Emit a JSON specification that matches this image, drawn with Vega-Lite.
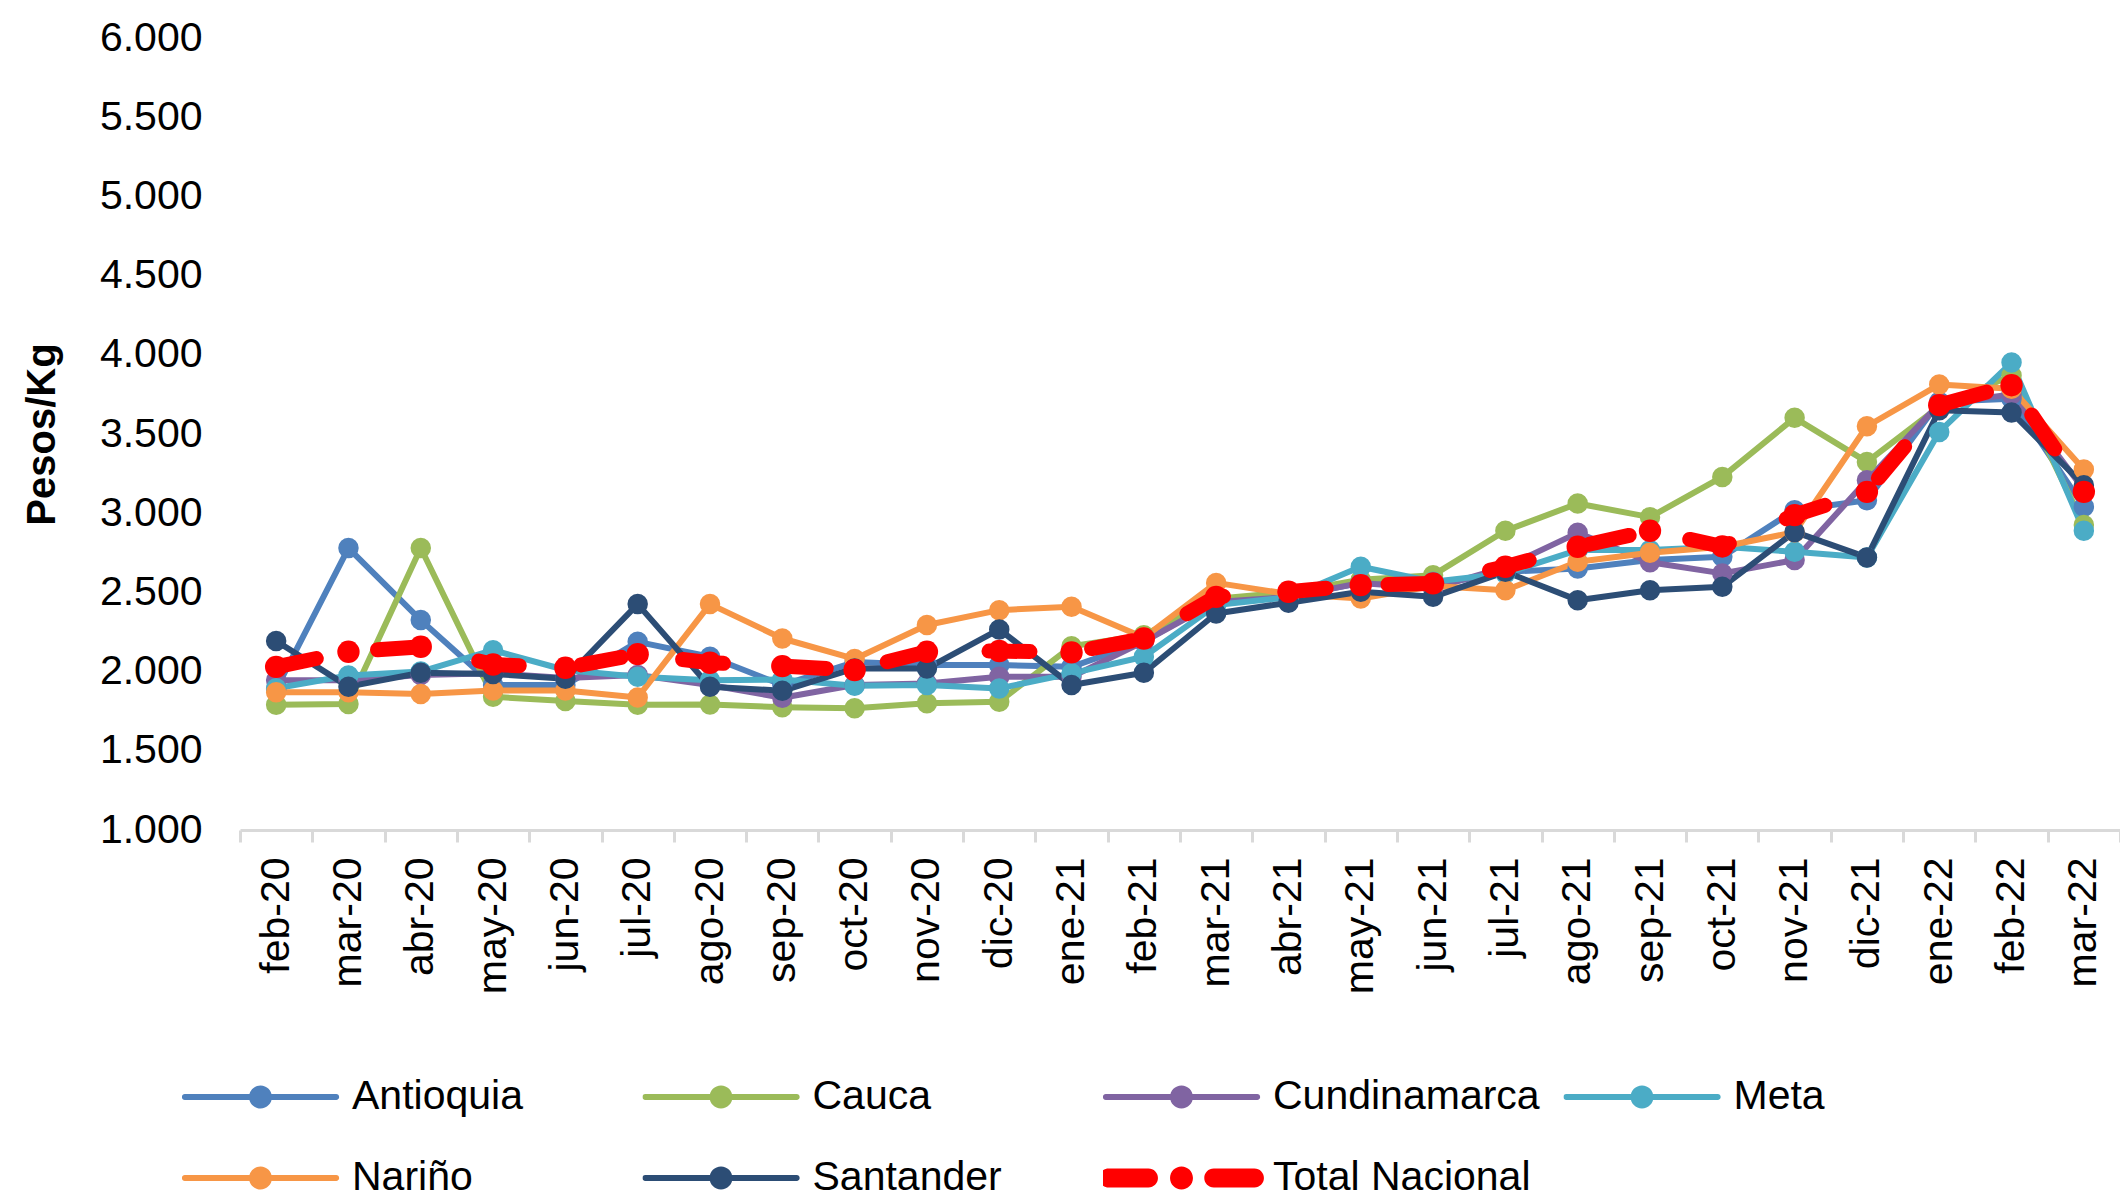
{
  "$schema": "https://vega.github.io/schema/vega-lite/v6.json",
  "autosize": {"type": "none"},
  "padding": {"left": 240, "top": 38, "right": 0, "bottom": 367},
  "width": 1880,
  "height": 792,
  "background": "white",
  "config": {
    "view": {"stroke": null},
    "font": "Liberation Sans",
    "axis": {"labelFont": "Liberation Sans", "titleFont": "Liberation Sans", "labelColor": "#000000", "titleColor": "#000000"},
    "legend": {"labelFont": "Liberation Sans"}
  },
  "datasets": {
    "precios": [
      {"mes": "feb-20", "serie": "Antioquia", "valor": 1890}, {"mes": "mar-20", "serie": "Antioquia", "valor": 2780}, {"mes": "abr-20", "serie": "Antioquia", "valor": 2325}, {"mes": "may-20", "serie": "Antioquia", "valor": 1915}, {"mes": "jun-20", "serie": "Antioquia", "valor": 1915}, {"mes": "jul-20", "serie": "Antioquia", "valor": 2188}, {"mes": "ago-20", "serie": "Antioquia", "valor": 2094}, {"mes": "sep-20", "serie": "Antioquia", "valor": 1915}, {"mes": "oct-20", "serie": "Antioquia", "valor": 2060}, {"mes": "nov-20", "serie": "Antioquia", "valor": 2041}, {"mes": "dic-20", "serie": "Antioquia", "valor": 2041}, {"mes": "ene-21", "serie": "Antioquia", "valor": 2030}, {"mes": "feb-21", "serie": "Antioquia", "valor": 2190}, {"mes": "mar-21", "serie": "Antioquia", "valor": 2450}, {"mes": "abr-21", "serie": "Antioquia", "valor": 2470}, {"mes": "may-21", "serie": "Antioquia", "valor": 2560}, {"mes": "jun-21", "serie": "Antioquia", "valor": 2545}, {"mes": "jul-21", "serie": "Antioquia", "valor": 2630}, {"mes": "ago-21", "serie": "Antioquia", "valor": 2651}, {"mes": "sep-21", "serie": "Antioquia", "valor": 2704}, {"mes": "oct-21", "serie": "Antioquia", "valor": 2725}, {"mes": "nov-21", "serie": "Antioquia", "valor": 3019}, {"mes": "dic-21", "serie": "Antioquia", "valor": 3082}, {"mes": "ene-22", "serie": "Antioquia", "valor": 3703}, {"mes": "feb-22", "serie": "Antioquia", "valor": 3723}, {"mes": "mar-22", "serie": "Antioquia", "valor": 3040},
      {"mes": "feb-20", "serie": "Cauca", "valor": 1790}, {"mes": "mar-20", "serie": "Cauca", "valor": 1795}, {"mes": "abr-20", "serie": "Cauca", "valor": 2780}, {"mes": "may-20", "serie": "Cauca", "valor": 1841}, {"mes": "jun-20", "serie": "Cauca", "valor": 1815}, {"mes": "jul-20", "serie": "Cauca", "valor": 1790}, {"mes": "ago-20", "serie": "Cauca", "valor": 1792}, {"mes": "sep-20", "serie": "Cauca", "valor": 1775}, {"mes": "oct-20", "serie": "Cauca", "valor": 1768}, {"mes": "nov-20", "serie": "Cauca", "valor": 1800}, {"mes": "dic-20", "serie": "Cauca", "valor": 1810}, {"mes": "ene-21", "serie": "Cauca", "valor": 2160}, {"mes": "feb-21", "serie": "Cauca", "valor": 2230}, {"mes": "mar-21", "serie": "Cauca", "valor": 2460}, {"mes": "abr-21", "serie": "Cauca", "valor": 2500}, {"mes": "may-21", "serie": "Cauca", "valor": 2580}, {"mes": "jun-21", "serie": "Cauca", "valor": 2609}, {"mes": "jul-21", "serie": "Cauca", "valor": 2889}, {"mes": "ago-21", "serie": "Cauca", "valor": 3061}, {"mes": "sep-21", "serie": "Cauca", "valor": 2975}, {"mes": "oct-21", "serie": "Cauca", "valor": 3229}, {"mes": "nov-21", "serie": "Cauca", "valor": 3602}, {"mes": "dic-21", "serie": "Cauca", "valor": 3324}, {"mes": "ene-22", "serie": "Cauca", "valor": 3672}, {"mes": "feb-22", "serie": "Cauca", "valor": 3870}, {"mes": "mar-22", "serie": "Cauca", "valor": 2925},
      {"mes": "feb-20", "serie": "Cundinamarca", "valor": 1946}, {"mes": "mar-20", "serie": "Cundinamarca", "valor": 1946}, {"mes": "abr-20", "serie": "Cundinamarca", "valor": 1978}, {"mes": "may-20", "serie": "Cundinamarca", "valor": 1990}, {"mes": "jun-20", "serie": "Cundinamarca", "valor": 1960}, {"mes": "jul-20", "serie": "Cundinamarca", "valor": 1978}, {"mes": "ago-20", "serie": "Cundinamarca", "valor": 1915}, {"mes": "sep-20", "serie": "Cundinamarca", "valor": 1835}, {"mes": "oct-20", "serie": "Cundinamarca", "valor": 1915}, {"mes": "nov-20", "serie": "Cundinamarca", "valor": 1925}, {"mes": "dic-20", "serie": "Cundinamarca", "valor": 1967}, {"mes": "ene-21", "serie": "Cundinamarca", "valor": 1967}, {"mes": "feb-21", "serie": "Cundinamarca", "valor": 2190}, {"mes": "mar-21", "serie": "Cundinamarca", "valor": 2440}, {"mes": "abr-21", "serie": "Cundinamarca", "valor": 2470}, {"mes": "may-21", "serie": "Cundinamarca", "valor": 2560}, {"mes": "jun-21", "serie": "Cundinamarca", "valor": 2525}, {"mes": "jul-21", "serie": "Cundinamarca", "valor": 2660}, {"mes": "ago-21", "serie": "Cundinamarca", "valor": 2876}, {"mes": "sep-21", "serie": "Cundinamarca", "valor": 2690}, {"mes": "oct-21", "serie": "Cundinamarca", "valor": 2620}, {"mes": "nov-21", "serie": "Cundinamarca", "valor": 2704}, {"mes": "dic-21", "serie": "Cundinamarca", "valor": 3208}, {"mes": "ene-22", "serie": "Cundinamarca", "valor": 3690}, {"mes": "feb-22", "serie": "Cundinamarca", "valor": 3750}, {"mes": "mar-22", "serie": "Cundinamarca", "valor": 3150},
      {"mes": "feb-20", "serie": "Meta", "valor": 1895}, {"mes": "mar-20", "serie": "Meta", "valor": 1975}, {"mes": "abr-20", "serie": "Meta", "valor": 2000}, {"mes": "may-20", "serie": "Meta", "valor": 2135}, {"mes": "jun-20", "serie": "Meta", "valor": 2010}, {"mes": "jul-20", "serie": "Meta", "valor": 1967}, {"mes": "ago-20", "serie": "Meta", "valor": 1946}, {"mes": "sep-20", "serie": "Meta", "valor": 1950}, {"mes": "oct-20", "serie": "Meta", "valor": 1910}, {"mes": "nov-20", "serie": "Meta", "valor": 1915}, {"mes": "dic-20", "serie": "Meta", "valor": 1894}, {"mes": "ene-21", "serie": "Meta", "valor": 1989}, {"mes": "feb-21", "serie": "Meta", "valor": 2094}, {"mes": "mar-21", "serie": "Meta", "valor": 2420}, {"mes": "abr-21", "serie": "Meta", "valor": 2470}, {"mes": "may-21", "serie": "Meta", "valor": 2662}, {"mes": "jun-21", "serie": "Meta", "valor": 2567}, {"mes": "jul-21", "serie": "Meta", "valor": 2620}, {"mes": "ago-21", "serie": "Meta", "valor": 2767}, {"mes": "sep-21", "serie": "Meta", "valor": 2767}, {"mes": "oct-21", "serie": "Meta", "valor": 2788}, {"mes": "nov-21", "serie": "Meta", "valor": 2756}, {"mes": "dic-21", "serie": "Meta", "valor": 2721}, {"mes": "ene-22", "serie": "Meta", "valor": 3513}, {"mes": "feb-22", "serie": "Meta", "valor": 3951}, {"mes": "mar-22", "serie": "Meta", "valor": 2889},
      {"mes": "feb-20", "serie": "Nariño", "valor": 1869}, {"mes": "mar-20", "serie": "Nariño", "valor": 1869}, {"mes": "abr-20", "serie": "Nariño", "valor": 1858}, {"mes": "may-20", "serie": "Nariño", "valor": 1880}, {"mes": "jun-20", "serie": "Nariño", "valor": 1880}, {"mes": "jul-20", "serie": "Nariño", "valor": 1837}, {"mes": "ago-20", "serie": "Nariño", "valor": 2426}, {"mes": "sep-20", "serie": "Nariño", "valor": 2209}, {"mes": "oct-20", "serie": "Nariño", "valor": 2080}, {"mes": "nov-20", "serie": "Nariño", "valor": 2294}, {"mes": "dic-20", "serie": "Nariño", "valor": 2388}, {"mes": "ene-21", "serie": "Nariño", "valor": 2409}, {"mes": "feb-21", "serie": "Nariño", "valor": 2215}, {"mes": "mar-21", "serie": "Nariño", "valor": 2560}, {"mes": "abr-21", "serie": "Nariño", "valor": 2490}, {"mes": "may-21", "serie": "Nariño", "valor": 2462}, {"mes": "jun-21", "serie": "Nariño", "valor": 2540}, {"mes": "jul-21", "serie": "Nariño", "valor": 2514}, {"mes": "ago-21", "serie": "Nariño", "valor": 2693}, {"mes": "sep-21", "serie": "Nariño", "valor": 2750}, {"mes": "oct-21", "serie": "Nariño", "valor": 2788}, {"mes": "nov-21", "serie": "Nariño", "valor": 2880}, {"mes": "dic-21", "serie": "Nariño", "valor": 3549}, {"mes": "ene-22", "serie": "Nariño", "valor": 3812}, {"mes": "feb-22", "serie": "Nariño", "valor": 3786}, {"mes": "mar-22", "serie": "Nariño", "valor": 3276},
      {"mes": "feb-20", "serie": "Santander", "valor": 2193}, {"mes": "mar-20", "serie": "Santander", "valor": 1905}, {"mes": "abr-20", "serie": "Santander", "valor": 1993}, {"mes": "may-20", "serie": "Santander", "valor": 1985}, {"mes": "jun-20", "serie": "Santander", "valor": 1955}, {"mes": "jul-20", "serie": "Santander", "valor": 2426}, {"mes": "ago-20", "serie": "Santander", "valor": 1905}, {"mes": "sep-20", "serie": "Santander", "valor": 1879}, {"mes": "oct-20", "serie": "Santander", "valor": 2020}, {"mes": "nov-20", "serie": "Santander", "valor": 2020}, {"mes": "dic-20", "serie": "Santander", "valor": 2266}, {"mes": "ene-21", "serie": "Santander", "valor": 1915}, {"mes": "feb-21", "serie": "Santander", "valor": 1993}, {"mes": "mar-21", "serie": "Santander", "valor": 2367}, {"mes": "abr-21", "serie": "Santander", "valor": 2435}, {"mes": "may-21", "serie": "Santander", "valor": 2504}, {"mes": "jun-21", "serie": "Santander", "valor": 2472}, {"mes": "jul-21", "serie": "Santander", "valor": 2630}, {"mes": "ago-21", "serie": "Santander", "valor": 2451}, {"mes": "sep-21", "serie": "Santander", "valor": 2514}, {"mes": "oct-21", "serie": "Santander", "valor": 2535}, {"mes": "nov-21", "serie": "Santander", "valor": 2882}, {"mes": "dic-21", "serie": "Santander", "valor": 2721}, {"mes": "ene-22", "serie": "Santander", "valor": 3650}, {"mes": "feb-22", "serie": "Santander", "valor": 3636}, {"mes": "mar-22", "serie": "Santander", "valor": 3177},
      {"mes": "feb-20", "serie": "Total Nacional", "valor": 2030}, {"mes": "mar-20", "serie": "Total Nacional", "valor": 2125}, {"mes": "abr-20", "serie": "Total Nacional", "valor": 2157}, {"mes": "may-20", "serie": "Total Nacional", "valor": 2045}, {"mes": "jun-20", "serie": "Total Nacional", "valor": 2024}, {"mes": "jul-20", "serie": "Total Nacional", "valor": 2110}, {"mes": "ago-20", "serie": "Total Nacional", "valor": 2056}, {"mes": "sep-20", "serie": "Total Nacional", "valor": 2035}, {"mes": "oct-20", "serie": "Total Nacional", "valor": 2010}, {"mes": "nov-20", "serie": "Total Nacional", "valor": 2125}, {"mes": "dic-20", "serie": "Total Nacional", "valor": 2130}, {"mes": "ene-21", "serie": "Total Nacional", "valor": 2121}, {"mes": "feb-21", "serie": "Total Nacional", "valor": 2209}, {"mes": "mar-21", "serie": "Total Nacional", "valor": 2472}, {"mes": "abr-21", "serie": "Total Nacional", "valor": 2504}, {"mes": "may-21", "serie": "Total Nacional", "valor": 2546}, {"mes": "jun-21", "serie": "Total Nacional", "valor": 2557}, {"mes": "jul-21", "serie": "Total Nacional", "valor": 2662}, {"mes": "ago-21", "serie": "Total Nacional", "valor": 2788}, {"mes": "sep-21", "serie": "Total Nacional", "valor": 2889}, {"mes": "oct-21", "serie": "Total Nacional", "valor": 2790}, {"mes": "nov-21", "serie": "Total Nacional", "valor": 2988}, {"mes": "dic-21", "serie": "Total Nacional", "valor": 3135}, {"mes": "ene-22", "serie": "Total Nacional", "valor": 3682}, {"mes": "feb-22", "serie": "Total Nacional", "valor": 3808}, {"mes": "mar-22", "serie": "Total Nacional", "valor": 3135}
    ]
  },
  "data": {"name": "precios"},
  "encoding": {
    "x": {
      "field": "mes", "type": "ordinal", "sort": null,
      "scale": {"type": "band", "paddingInner": 0, "paddingOuter": 0},
      "axis": {
        "title": null, "labelAngle": -90, "labelAlign": "right", "labelBaseline": "middle",
        "labelFontSize": 41, "labelPadding": 15, "tickBand": "extent",
        "domainColor": "#D9D9D9", "domainWidth": 3, "tickColor": "#D9D9D9", "tickWidth": 3, "tickSize": 12,
        "grid": false, "labelOverlap": false
      }
    },
    "y": {
      "field": "valor", "type": "quantitative",
      "scale": {"domain": [1000, 6000], "nice": false, "zero": false},
      "axis": {
        "title": "Pesos/Kg", "titleFontSize": 40, "titleFontWeight": "bold",
        "titleX": -198, "titleY": 396, "titleAngle": -90, "titleAlign": "center", "titleBaseline": "middle",
        "values": [1000, 1500, 2000, 2500, 3000, 3500, 4000, 4500, 5000, 5500, 6000],
        "labelExpr": "replace(format(datum.value, ',.0f'), ',', '.')",
        "labelFontSize": 41, "labelPadding": 38, "ticks": false, "domain": false, "grid": false
      }
    },
    "color": {
      "field": "serie", "type": "nominal",
      "scale": {
        "domain": ["Antioquia", "Cauca", "Cundinamarca", "Meta", "Nariño", "Santander", "Total Nacional"],
        "range": ["#4F81BD", "#9BBB59", "#8064A2", "#4BACC6", "#F79646", "#2C4D75", "#FF0000"]
      },
      "legend": {
        "title": null, "orient": "none", "legendX": -58, "legendY": 1031, "columns": 4, "direction": "horizontal",
        "gridAlign": "all", "columnPadding": 23.5, "rowPadding": 25, "clipHeight": 56, "labelFontSize": 41, "labelOffset": 13,
        "symbolSize": 24649, "padding": 0, "labelLimit": 0,
        "encode": {
          "symbols": {
            "update": {
              "shape": [
                {"test": "datum.value === 'Total Nacional'", "value": "M-0.929,-0.121 L-0.421,-0.121 A0.121,0.121 0 0 1 -0.421,0.121 L-0.929,0.121 A0.121,0.121 0 0 1 -0.929,-0.121 Z M0.411,-0.121 L0.929,-0.121 A0.121,0.121 0 0 1 0.929,0.121 L0.411,0.121 A0.121,0.121 0 0 1 0.411,-0.121 Z M0.146,0 A0.146,0.146 0 1 1 -0.146,0 A0.146,0.146 0 1 1 0.146,0 Z"},
                {"value": "M-0.965,-0.037 L0.965,-0.037 A0.037,0.037 0 0 1 0.965,0.037 L-0.965,0.037 A0.037,0.037 0 0 1 -0.965,-0.037 Z M0.146,0 A0.146,0.146 0 1 1 -0.146,0 A0.146,0.146 0 1 1 0.146,0 Z"}
              ],
              "fill": {"scale": "color", "field": "value"},
              "stroke": {"value": "transparent"},
              "strokeWidth": {"value": 0},
              "opacity": {"value": 1}
            }
          }
        }
      }
    }
  },
  "layer": [
    {
      "transform": [{"filter": "datum.serie !== 'Total Nacional'"}],
      "mark": {"type": "line", "strokeWidth": 6, "strokeCap": "round", "strokeJoin": "round"}
    },
    {
      "transform": [{"filter": "datum.serie !== 'Total Nacional'"}],
      "mark": {"type": "circle", "size": 420, "opacity": 1}
    },
    {
      "transform": [{"filter": "datum.serie === 'Total Nacional'"}],
      "mark": {"type": "line", "strokeWidth": 15, "strokeDash": [41, 62], "strokeCap": "round", "strokeJoin": "round"}
    },
    {
      "transform": [{"filter": "datum.serie === 'Total Nacional'"}],
      "mark": {"type": "circle", "size": 500, "opacity": 1}
    }
  ]
}
